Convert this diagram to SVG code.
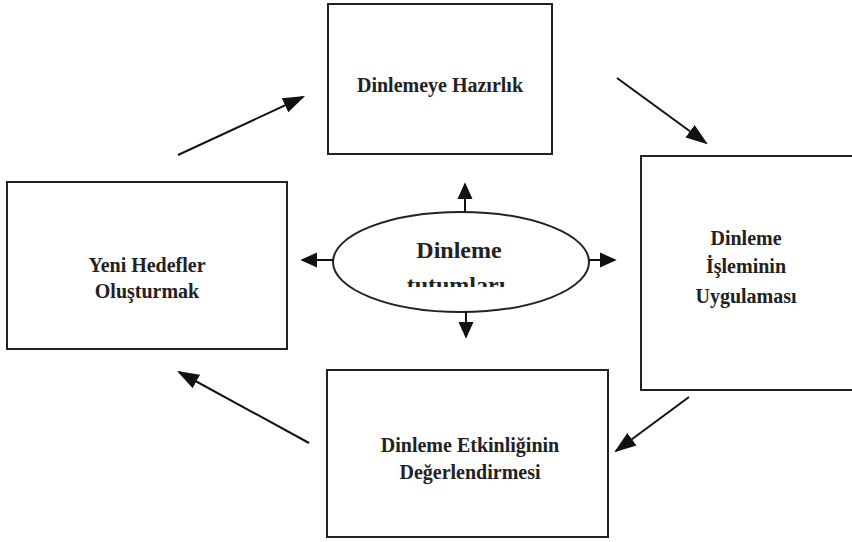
<svg xmlns="http://www.w3.org/2000/svg" width="852" height="542" viewBox="0 0 852 542">
  <defs>
    <marker id="head" viewBox="0 0 10 10" refX="9" refY="5" markerWidth="17" markerHeight="17" markerUnits="userSpaceOnUse" orient="auto">
      <path d="M0,0.5 L10,5 L0,9.5 z" fill="#111"/>
    </marker>
    <marker id="bighead" viewBox="0 0 10 10" refX="9" refY="5" markerWidth="22" markerHeight="22" markerUnits="userSpaceOnUse" orient="auto">
      <path d="M0,1.5 L10,5 L0,8.5 z" fill="#111"/>
    </marker>
    <clipPath id="ovalClip">
      <rect x="330" y="200" width="265" height="87"/>
    </clipPath>
    <style>
      .box { fill: #fff; stroke: #222; stroke-width: 2; }
      .lbl { font-family: "Liberation Serif", "Times New Roman", serif; font-weight: bold; font-size: 20px; fill: #222; text-anchor: middle; }
      .big { font-size: 24px; }
      .conn { stroke: #111; stroke-width: 2; fill: none; }
    </style>
  </defs>
  <rect width="852" height="542" fill="#fff"/>

  <g id="hazirlik">
    <rect class="box" x="328" y="4" width="224" height="150"/>
    <text class="lbl" x="440" y="92">Dinlemeye Hazırlık</text>
  </g>

  <g id="hedefler">
    <rect class="box" x="7" y="182" width="280" height="167"/>
    <text class="lbl" x="147" y="272">Yeni Hedefler</text>
    <text class="lbl" x="147" y="298">Oluşturmak</text>
  </g>

  <g id="uygulama">
    <rect class="box" x="641" y="156" width="215" height="234"/>
    <text class="lbl" x="746" y="245">Dinleme</text>
    <text class="lbl" x="746" y="273">İşleminin</text>
    <text class="lbl" x="746" y="303">Uygulaması</text>
  </g>

  <g id="degerlendirme">
    <rect class="box" x="327" y="370" width="281" height="167"/>
    <text class="lbl" x="470" y="452">Dinleme Etkinliğinin</text>
    <text class="lbl" x="470" y="479">Değerlendirmesi</text>
  </g>

  <g id="tutumlar">
    <ellipse class="box" cx="461" cy="262" rx="128" ry="50"/>
    <text class="lbl big" x="459" y="258">Dinleme</text>
    <text class="lbl big" x="459" y="293" clip-path="url(#ovalClip)">tutumları.</text>
  </g>

  <g id="connectors">
    <line class="conn" x1="178" y1="155" x2="303" y2="97" marker-end="url(#bighead)"/>
    <line class="conn" x1="617" y1="78" x2="706" y2="143" marker-end="url(#bighead)"/>
    <line class="conn" x1="689" y1="397" x2="616" y2="451" marker-end="url(#bighead)"/>
    <line class="conn" x1="309" y1="443" x2="179" y2="372" marker-end="url(#bighead)"/>
    <line class="conn" x1="465" y1="212" x2="465" y2="184" marker-end="url(#head)"/>
    <line class="conn" x1="466" y1="312" x2="466" y2="337" marker-end="url(#head)"/>
    <line class="conn" x1="333" y1="260" x2="302" y2="260" marker-end="url(#head)"/>
    <line class="conn" x1="589" y1="260" x2="615" y2="260" marker-end="url(#head)"/>
  </g>
</svg>
